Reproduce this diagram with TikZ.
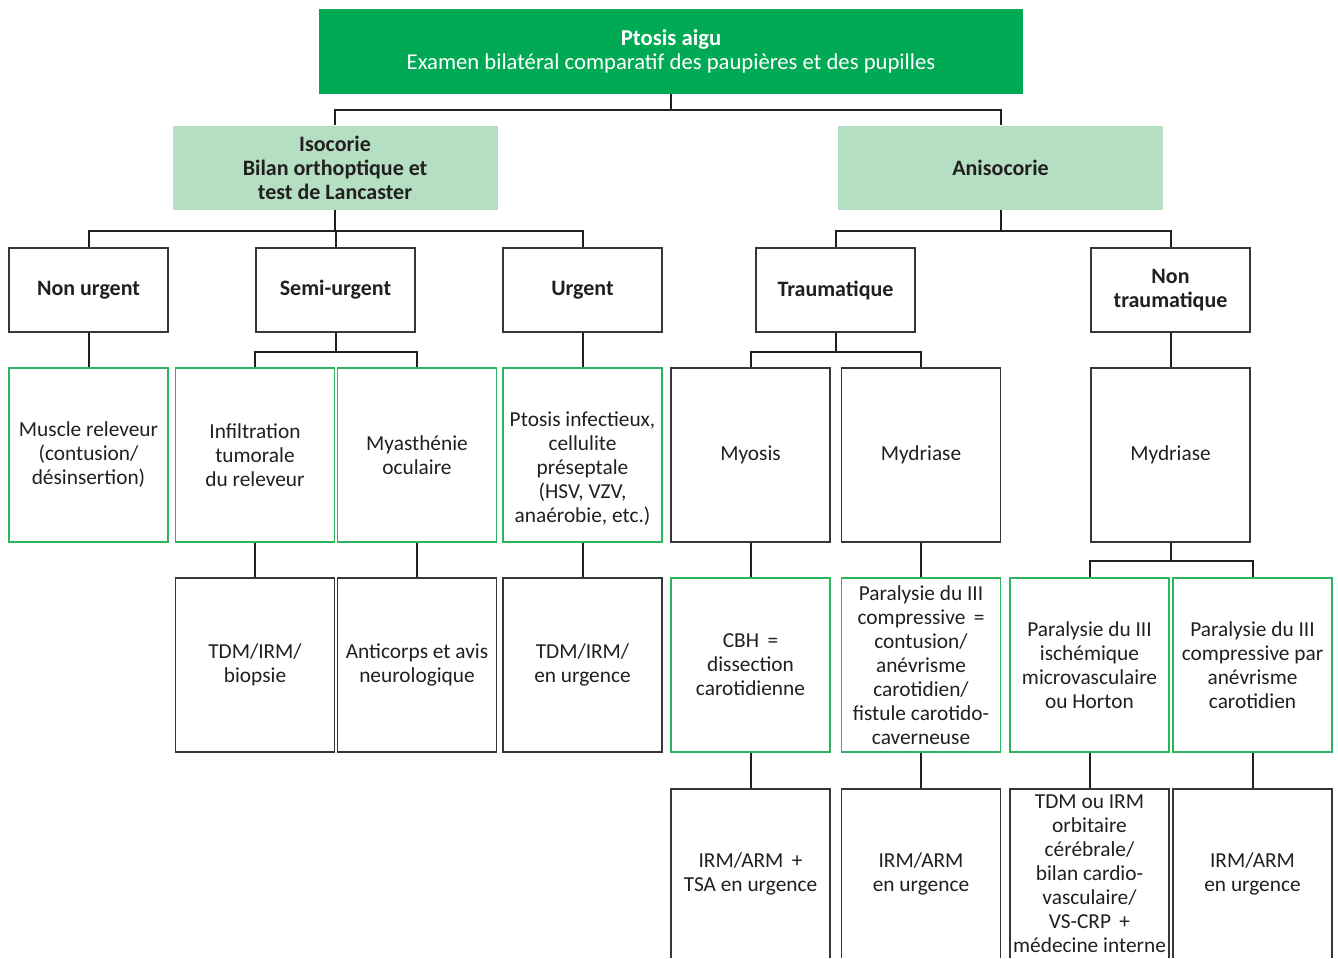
\documentclass[tikz,border=0pt]{standalone}
\usepackage{fontspec}
\setmainfont{Carlito}
\usetikzlibrary{positioning}

\definecolor{ptgreen}{RGB}{0,170,84}
\definecolor{ptlight}{RGB}{181,223,194}
\definecolor{ptrim}{RGB}{45,180,95}
\definecolor{ptink}{RGB}{35,31,32}
\definecolor{ptline}{RGB}{55,55,55}

\tikzset{
  every picture/.style={line width=0.75pt},
  box/.style={rectangle, inner sep=0pt, align=center, text=ptink,
    font=\fontsize{16}{18}\selectfont},
  rootbox/.style={box, fill=ptgreen, text=white, minimum width=528pt, minimum height=63.75pt,
    font=\fontsize{17}{18}\selectfont},
  catbox/.style={box, fill=ptlight, minimum width=243.75pt, minimum height=63pt,
    font=\fontsize{16.5}{18}\selectfont\bfseries},
  headbox/.style={box, draw=ptline, line width=1.1pt, fill=white, minimum width=119.25pt,
    minimum height=63pt, font=\fontsize{16.5}{18}\selectfont\bfseries},
  greenbox/.style={box, draw=ptrim, line width=1.1pt, fill=white, minimum width=119.25pt, minimum height=130.5pt},
  plainbox/.style={box, draw=ptline, line width=1.1pt, fill=white, minimum width=119.25pt, minimum height=130.5pt},
  tallbox/.style={plainbox, minimum height=127.5pt},
  link/.style={draw=ptink, line width=1.5pt},
}

\begin{document}
\begin{tikzpicture}[x=0.75pt,y=0.75pt,yscale=-1,xscale=1]
	\useasboundingbox (0,0) rectangle (1338,959);
	\clip (0,0) rectangle (1338,957.5);

	%Shape: Rectangle [top]
	\node[rootbox] (ptosis) at (671,51.5) {\textbf{Ptosis aigu}\\Examen bilatéral comparatif des paupières et des pupilles};

	%Shape: Rectangle [second row]
	\node[catbox] (isocorie) at (335,168) {Isocorie\\Bilan orthoptique et\\test de Lancaster};
	\node[catbox] (anisocorie) at (1000.5,168) {Anisocorie};

	%Shape: Rectangle [third row]
	\node[headbox] (nonurg) at (88.5,290) {Non urgent};
	\node[headbox] (semiurg) at (335.5,290) {Semi-urgent};
	\node[headbox] (urg) at (582.5,290) {Urgent};
	\node[headbox] (trauma) at (835.5,290) {Traumatique};
	\node[headbox] (nontrauma) at (1170.5,290) {Non\\traumatique};

	%Shape: Rectangle [fourth row]
	\node[greenbox] (muscle) at (88.5,455) {Muscle releveur\\(contusion/\\désinsertion)};
	\node[greenbox] (infiltr) at (255,455) {Infiltration\\tumorale\\du releveur};
	\node[greenbox] (myasth) at (417,455) {Myasthénie\\oculaire};
	% first line strut pushes this text a little lower in its box
	\node[greenbox] (infect) at (582.5,455) {\rule{0pt}{32pt}Ptosis infectieux,\\cellulite\\préseptale\\(HSV, VZV,\\anaérobie, etc.)};
	\node[plainbox] (myosis) at (750.5,455) {Myosis};
	\node[plainbox] (mydrA) at (921,455) {Mydriase};
	\node[plainbox] (mydrB) at (1170.5,455) {Mydriase};

	%Shape: Rectangle [fifth row]
	\node[plainbox] (biopsie) at (255,665) {TDM/IRM/\\biopsie};
	\node[plainbox] (anticorps) at (417,665) {Anticorps et avis\\neurologique};
	\node[plainbox] (urgimg) at (582.5,665) {TDM/IRM/\\en urgence};
	\node[greenbox] (cbh) at (750.5,665) {CBH \,=\\dissection\\carotidienne};
	\node[greenbox] (compA) at (921,665) {Paralysie du III\\compressive \,=\\contusion/\\anévrisme\\carotidien/\\fistule carotido-\\caverneuse};
	\node[greenbox] (ischem) at (1089.5,665) {Paralysie du III\\ischémique\\microvasculaire\\ou Horton};
	\node[greenbox] (compB) at (1252.5,665) {Paralysie du III\\compressive par\\anévrisme\\carotidien};

	%Shape: Rectangle [last row, runs off the page]
	\node[tallbox] (tsa) at (750.5,874) {IRM/ARM \,+\\TSA en urgence};
	\node[tallbox] (armA) at (921,874) {IRM/ARM\\en urgence};
	\node[tallbox] (bilan) at (1089.5,874) {TDM ou IRM\\orbitaire\\cérébrale/\\bilan cardio-\\vasculaire/\\VS-CRP \,+\\médecine interne};
	\node[tallbox] (armB) at (1252.5,874) {IRM/ARM\\en urgence};

	%Straight Lines [tree links]
	\draw[link] (ptosis.south) -- ++(0,16) coordinate (j0);
	\draw[link] (j0) -| (isocorie.north);
	\draw[link] (j0) -| (anisocorie.north);

	\draw[link] (isocorie.south) -- ++(0,21) coordinate (j1);
	\draw[link] (j1) -| (nonurg.north);
	\draw[link] (j1) -| (semiurg.north);
	\draw[link] (j1) -| (urg.north);

	\draw[link] (anisocorie.south) -- ++(0,21) coordinate (j2);
	\draw[link] (j2) -| (trauma.north);
	\draw[link] (j2) -| (nontrauma.north);

	\draw[link] (nonurg.south) -- (muscle.north);
	\draw[link] (semiurg.south) -- ++(0,19) coordinate (j3);
	\draw[link] (j3) -| (infiltr.north);
	\draw[link] (j3) -| (myasth.north);
	\draw[link] (urg.south) -- (infect.north);
	\draw[link] (trauma.south) -- ++(0,19) coordinate (j4);
	\draw[link] (j4) -| (myosis.north);
	\draw[link] (j4) -| (mydrA.north);
	\draw[link] (nontrauma.south) -- (mydrB.north);

	\draw[link] (infiltr.south) -- (biopsie.north);
	\draw[link] (myasth.south) -- (anticorps.north);
	\draw[link] (infect.south) -- (urgimg.north);
	\draw[link] (myosis.south) -- (cbh.north);
	\draw[link] (mydrA.south) -- (compA.north);
	\draw[link] (mydrB.south) -- ++(0,18) coordinate (j5);
	\draw[link] (j5) -| (ischem.north);
	\draw[link] (j5) -| (compB.north);

	\draw[link] (cbh.south) -- (tsa.north);
	\draw[link] (compA.south) -- (armA.north);
	\draw[link] (ischem.south) -- (bilan.north);
	\draw[link] (compB.south) -- (armB.north);

\end{tikzpicture}
\end{document}
